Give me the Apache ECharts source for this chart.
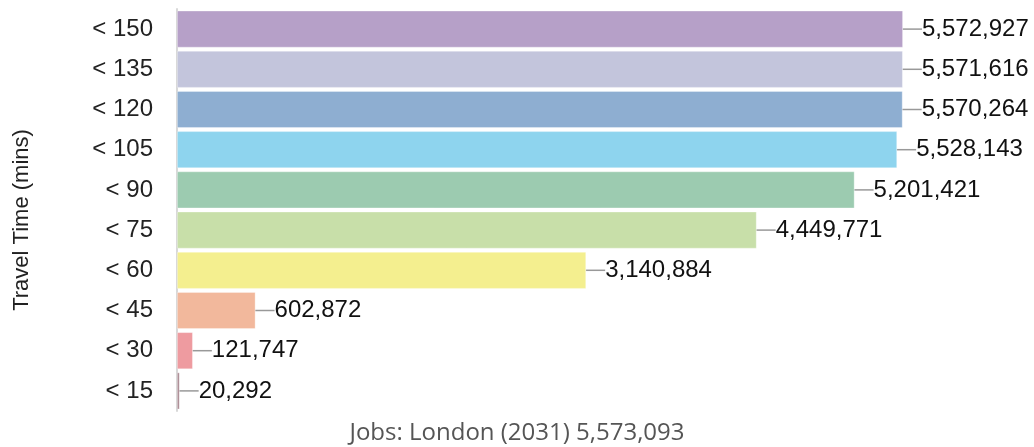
<!DOCTYPE html>
<html>
<head>
<meta charset="utf-8">
<script src="https://cdn.jsdelivr.net/npm/echarts@6/dist/echarts.min.js"></script>
<style>
  html, body { margin: 0; padding: 0; background: #fff; }
  #chart { width: 1034px; height: 447px; }
</style>
</head>
<body>
<div id="chart"></div>
<script>
// travel time bands, top to bottom
const categories = ['< 150', '< 135', '< 120', '< 105', '< 90', '< 75', '< 60', '< 45', '< 30', '< 15'];
const jobs = [5572927, 5571616, 5570264, 5528143, 5201421, 4449771, 3140884, 602872, 121747, 20292];
const totalJobs = 5573093;

const palette = ['#b6a0c8', '#c3c5dc', '#8eaed1', '#8ed4ee', '#9ccbb0', '#c8dfa9', '#f4ef8f', '#f2b89c', '#ee9ba0', '#a8868f'];

const myChart = echarts.init(document.getElementById('chart'));

const option = {
  animation: false,
  title: {
    text: 'Jobs: London (2031) ' + totalJobs.toLocaleString('en-US'),
    left: 'center',
    top: 416,
    textStyle: { fontFamily: 'Open Sans', fontWeight: 'normal', fontSize: 24, color: '#555' }
  },
  graphic: [{
    type: 'text',
    x: 22,
    y: 220,
    rotation: Math.PI / 2,
    style: {
      text: 'Travel Time (mins)',
      fontFamily: 'Liberation Sans',
      fontSize: 22,
      fill: '#222',
      align: 'center',
      verticalAlign: 'middle'
    }
  }],
  grid: { left: 177, right: 131, top: 9, bottom: 36 },
  xAxis: {
    type: 'value',
    min: 0,
    max: totalJobs,
    show: false
  },
  yAxis: {
    type: 'category',
    inverse: true,
    data: categories,
    axisLine: { show: true, lineStyle: { color: '#d8d8d8', width: 2 } },
    axisTick: { show: false },
    axisLabel: { fontFamily: 'Liberation Sans', fontSize: 24, color: '#222', margin: 24 }
  },
  series: [{
    type: 'bar',
    data: jobs,
    barCategoryGap: '8%',
    itemStyle: {
      color: p => palette[p.dataIndex],
      borderColor: 'rgba(255,255,255,0.4)',
      borderWidth: 0.8
    },
    label: {
      show: true,
      position: 'right',
      distance: 0,
      fontFamily: 'Liberation Sans',
      fontSize: 24,
      color: '#111',
      formatter: p => p.value.toLocaleString('en-US')
    },
    labelLayout: { dx: 19 },
    labelLine: { show: true, lineStyle: { color: '#999', width: 1.5 } }
  }]
};

myChart.setOption(option);
</script>
</body>
</html>
